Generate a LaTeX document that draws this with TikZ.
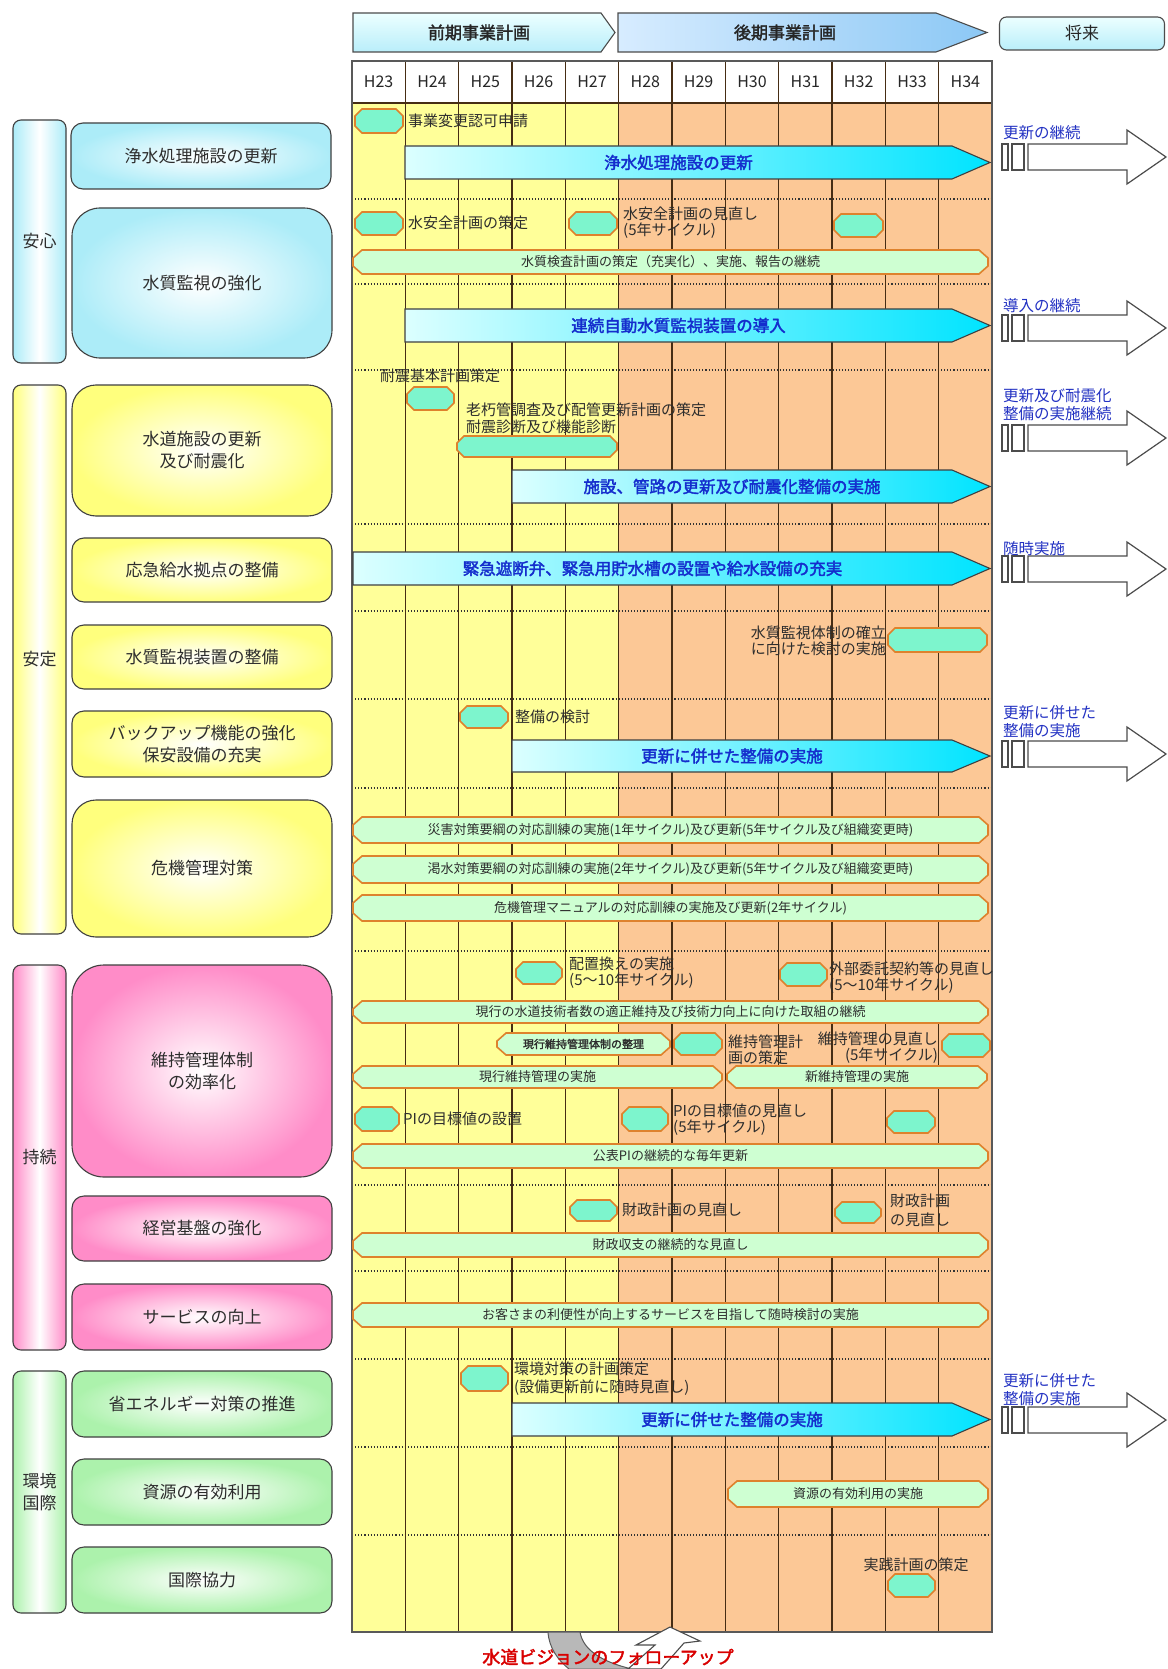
\documentclass[tikz,border=0pt]{standalone}
\usepackage{fontspec}
\setmainfont{Noto Sans CJK JP}[AutoFakeBold=2.2]
\usetikzlibrary{shapes.misc}
\definecolor{gyel}{RGB}{255,255,153}
\definecolor{gora}{RGB}{252,200,150}
\definecolor{aqua}{RGB}{125,245,205}
\definecolor{oedge}{RGB}{222,130,45}
\definecolor{mint}{RGB}{206,255,210}
\definecolor{cyl}{RGB}{220,255,255}
\definecolor{cyd}{RGB}{0,228,255}
\definecolor{tblue}{RGB}{20,45,205}
\definecolor{fblue}{RGB}{35,50,195}
\definecolor{txt}{RGB}{45,45,45}
\definecolor{brn}{RGB}{70,45,20}
\definecolor{lcyan}{RGB}{172,236,248}
\definecolor{lyel}{RGB}{255,255,125}
\definecolor{lpink}{RGB}{255,140,200}
\definecolor{lgreen}{RGB}{172,242,172}
\definecolor{hcyan1}{RGB}{236,255,255}
\definecolor{hcyan2}{RGB}{185,238,250}
\definecolor{hblue1}{RGB}{215,236,255}
\definecolor{hblue2}{RGB}{140,200,245}
\newcommand\fsz[2]{\fontsize{#1}{#2}\selectfont}
% milestone: name x0 y0 x1 y1
\newcommand\MStone[5]{%
  \path[msty] ({#2+7},#3) -- ({#4-7},#3) -- (#4,{#3+7}) -- (#4,{#5-7}) -- ({#4-7},#5) -- ({#2+7},#5) -- (#2,{#5-7}) -- (#2,{#3+7}) -- cycle;
  \coordinate (#1) at ({(#2+#4)/2},{(#3+#5)/2});}
% green bar: [opt] name x0 y0 x1 y1 text
\newcommand\GBar[7][]{%
  \path[gbsty] ({#3+9},#4) -- ({#5-9},#4) -- (#5,{#4+8}) -- (#5,{#6-8}) -- ({#5-9},#6) -- ({#3+9},#6) -- (#3,{#6-8}) -- (#3,{#4+8}) -- cycle;
  \node[bartxt,#1] (#2) at ({(#3+#5)/2},{(#4+#6)/2}) {#7};}
% big arrow: name x0 y0 y1 text
\newcommand\BArr[5]{%
  \path[draw=black!75, line width=1.1, left color=cyl, right color=cyd] (#2,#3) -- (952,#3) -- (990,{(#3+#4)/2}) -- (952,#4) -- (#2,#4) -- cycle;
  \node[arrtxt] (#1) at ({(#2+952)/2},{(#3+#4)/2}) {#5};}
% future arrow: name ymid
\newcommand\FArr[2]{%
  \draw[futsty] (1002,{#2-13}) rectangle (1008,{#2+13});
  \draw[futsty] (1012,{#2-13}) rectangle (1024,{#2+13});
  \draw[futsty] (1028,{#2-13}) -- (1127,{#2-13}) -- (1127,{#2-27}) -- (1166,#2) -- (1127,{#2+27}) -- (1127,{#2+13}) -- (1028,{#2+13}) -- cycle;
  \coordinate (#1) at (1097,#2);}
\begin{document}
\begin{tikzpicture}[x=1pt,y=-1pt,
 lab/.style={font=\fsz{15}{16}, text=txt, inner sep=0pt, anchor=west, align=left},
 flab/.style={font=\fsz{15.5}{18}, text=fblue, inner sep=0pt, anchor=west, align=left},
 bartxt/.style={font=\fsz{13}{14}, text=txt, inner sep=0pt},
 arrtxt/.style={font=\fsz{16.5}{18}\bfseries, text=tblue, inner sep=0pt},
 msty/.style={fill=aqua, draw=oedge, line width=1.6},
 gbsty/.style={fill=mint, draw=oedge, line width=1.6},
 futsty/.style={fill=white, draw=black!70, line width=1.2},
 gline/.style={draw=brn, line width=1.3},
 lbox/.style={draw=black!75, line width=1.1, inner sep=0pt, align=center, font=\fsz{17}{22}, text=txt, minimum width=260pt},
 gbox/.style={draw=black!75, line width=1.1, inner sep=0pt, align=center, font=\fsz{17}{22}, text=txt, minimum width=53pt, rounded corners=8pt},
 cybox/.style={inner color=white, outer color=lcyan},
 yebox/.style={inner color=white, outer color=lyel},
 pkbox/.style={inner color=white, outer color=lpink},
 grbox/.style={inner color=white, outer color=lgreen},
 hdr/.style={font=\fsz{17}{18}\bfseries, text=black!85, inner sep=0pt},
 yr/.style={font=\fsz{16}{16}, text=black!85, inner sep=0pt}
]
\fill[white] (0,0) rectangle (1167,1669);
\useasboundingbox (0,0) rectangle (1167,1669);

% ---------- header ----------
\path[draw=black!70, line width=1.1, top color=hcyan1, bottom color=hcyan2] (353,13) -- (601,13) -- (615,32.5) -- (601,52) -- (353,52) -- cycle;
\node[hdr] (zenki) at (479,32.5) {前期事業計画};
\path[draw=black!70, line width=1.1, left color=hblue1, right color=hblue2] (618,13) -- (936,13) -- (987,32.5) -- (936,52) -- (618,52) -- cycle;
\node[hdr] (kouki) at (785,32.5) {後期事業計画};
\node[draw=black!70, line width=1.1, rounded corners=7pt, top color=hcyan1, bottom color=hcyan2, minimum width=165pt, minimum height=33pt, font=\fsz{17}{18}, text=black!85] (shourai) at (1082,33.5) {将来};

% ---------- grid ----------
\fill[gyel] (352,103) rectangle (618.7,1632);
\fill[gora] (618.7,103) rectangle (992,1632);
\fill[white] (352,61) rectangle (992,103);
\foreach \y in {199,284,370,524,611,699,788,951,1185,1271,1359,1447,1535}
  \draw[dotted, line width=1.1, black!80] (352,\y) -- (992,\y);
\foreach \i in {1,...,11}
  \draw[gline] ({352+53.333*\i},61) -- ({352+53.333*\i},1632);
\draw[gline] (352,103) -- (992,103);
\draw[black!65, line width=1.3] (352,61) rectangle (992,1632);
\foreach \n [count=\i from 0] in {23,...,34}
  \node[yr] (y\n) at ({352+53.333*(\i+0.5)},82) {H\n};

% ---------- left labels ----------
\node[gbox, left color=lcyan, right color=lcyan, middle color=white, minimum height=243pt] (gAnshin) at (39.5,241.5) {安心};
\node[gbox, left color=lyel, right color=lyel, middle color=white, minimum height=549pt] (gAntei) at (39.5,659.5) {安定};
\node[gbox, left color=lpink, right color=lpink, middle color=white, minimum height=385pt] (gJizoku) at (39.5,1157.5) {持続};
\node[gbox, left color=lgreen, right color=lgreen, middle color=white, minimum height=242pt] (gKankyo) at (39.5,1492) {環境\\国際};

\node[lbox, cybox, rounded corners=12pt, minimum height=66pt] (kJousui) at (201,156) {浄水処理施設の更新};
\node[lbox, cybox, rounded corners=28pt, minimum height=150pt] (kSuishitsu) at (202,283) {水質監視の強化};
\node[lbox, yebox, rounded corners=24pt, minimum height=131pt] (kSuido) at (202,450.5) {水道施設の更新\\及び耐震化};
\node[lbox, yebox, rounded corners=12pt, minimum height=64pt] (kOukyu) at (202,570) {応急給水拠点の整備};
\node[lbox, yebox, rounded corners=12pt, minimum height=64pt] (kKanshi) at (202,657) {水質監視装置の整備};
\node[lbox, yebox, rounded corners=12pt, minimum height=66pt] (kBackup) at (202,744) {バックアップ機能の強化\\保安設備の充実};
\node[lbox, yebox, rounded corners=24pt, minimum height=137pt] (kKiki) at (202,868.5) {危機管理対策};
\node[lbox, pkbox, rounded corners=32pt, minimum height=212pt] (kIji) at (202,1071) {維持管理体制\\の効率化};
\node[lbox, pkbox, rounded corners=12pt, minimum height=65pt] (kKeiei) at (202,1228.5) {経営基盤の強化};
\node[lbox, pkbox, rounded corners=12pt, minimum height=66pt] (kService) at (202,1317) {サービスの向上};
\node[lbox, grbox, rounded corners=12pt, minimum height=66pt] (kShoene) at (202,1404) {省エネルギー対策の推進};
\node[lbox, grbox, rounded corners=12pt, minimum height=66pt] (kShigen) at (202,1492) {資源の有効利用};
\node[lbox, grbox, rounded corners=12pt, minimum height=66pt] (kKokusai) at (202,1580) {国際協力};

% ---------- 安心 ----------
\MStone{m1}{355}{109}{403}{133}
\node[lab] (l1) at (408,121) {事業変更認可申請};
\BArr{a1}{405}{146}{179}{浄水処理施設の更新}
\FArr{f1}{157}
\node[flab] (fl1) at (1003,133) {更新の継続};
\MStone{m2}{355}{212}{403}{235}
\node[lab] (l2) at (408,223) {水安全計画の策定};
\MStone{m3}{569}{212}{617}{235}
\node[lab] (l3) at (623,222.5) {水安全計画の見直し\\(5年サイクル)};
\MStone{m4}{834}{214}{883}{237}
\GBar{b1}{353}{250}{988}{274}{水質検査計画の策定（充実化）、実施、報告の継続}
\BArr{a2}{405}{309}{342}{連続自動水質監視装置の導入}
\FArr{f2}{328}
\node[flab] (fl2) at (1003,306) {導入の継続};

% ---------- 安定 ----------
\node[lab] (l4) at (380,376) {耐震基本計画策定};
\MStone{m5}{407}{387}{454}{410}
\node[lab, font=\fsz{15}{17}] (l5) at (466,418.5) {老朽管調査及び配管更新計画の策定\\耐震診断及び機能診断};
\MStone{m6}{457}{436}{617}{457}
\BArr{a3}{512}{470}{503}{施設、管路の更新及び耐震化整備の実施}
\FArr{f3}{438}
\node[flab] (fl3) at (1003,405) {更新及び耐震化\\整備の実施継続};
\BArr{a4}{353}{552}{585}{緊急遮断弁、緊急用貯水槽の設置や給水設備の充実}
\FArr{f4}{569}
\node[flab] (fl4) at (1003,549) {随時実施};
\node[lab, anchor=east, align=right] (l6) at (886,641) {水質監視体制の確立\\に向けた検討の実施};
\MStone{m7}{888}{628}{987}{652}
\MStone{m8}{460}{706}{508}{728}
\node[lab] (l7) at (515,717) {整備の検討};
\BArr{a5}{512}{740}{772}{更新に併せた整備の実施}
\FArr{f5}{754}
\node[flab] (fl5) at (1003,722) {更新に併せた\\整備の実施};
\GBar{b2}{353}{817}{988}{843}{災害対策要綱の対応訓練の実施(1年サイクル)及び更新(5年サイクル及び組織変更時)}
\GBar{b3}{353}{856}{988}{883}{渇水対策要綱の対応訓練の実施(2年サイクル)及び更新(5年サイクル及び組織変更時)}
\GBar{b4}{353}{895}{988}{921}{危機管理マニュアルの対応訓練の実施及び更新(2年サイクル)}

% ---------- 持続 ----------
\MStone{m9}{516}{962}{562}{984}
\node[lab] (l8) at (569,972.5) {配置換えの実施\\(5～10年サイクル)};
\MStone{m10}{780}{963}{827}{986}
\node[lab] (l9) at (829,978) {外部委託契約等の見直し\\(5～10年サイクル)};
\GBar{b5}{353}{1001}{988}{1023}{現行の水道技術者数の適正維持及び技術力向上に向けた取組の継続}
\GBar[font=\fsz{11}{12}\bfseries]{b6}{497}{1033}{670}{1055}{現行維持管理体制の整理}
\MStone{m11}{674}{1033}{722}{1055}
\node[lab] (l10) at (728,1049.5) {維持管理計\\画の策定};
\node[lab, anchor=east, align=right] (l11) at (938,1047.5) {維持管理の見直し\\(5年サイクル)};
\MStone{m12}{942}{1034}{990}{1057}
\GBar{b7}{353}{1066}{722}{1088}{現行維持管理の実施}
\GBar{b8}{727}{1066}{987}{1088}{新維持管理の実施}
\MStone{m13}{355}{1107}{399}{1131}
\node[lab] (l12) at (403,1119) {PIの目標値の設置};
\MStone{m14}{622}{1107}{668}{1131}
\node[lab] (l13) at (673,1120) {PIの目標値の見直し\\(5年サイクル)};
\MStone{m15}{887}{1111}{935}{1133}
\GBar{b9}{353}{1144}{988}{1168}{公表PIの継続的な毎年更新}
\MStone{m16}{570}{1200}{617}{1221}
\node[lab] (l14) at (622,1210) {財政計画の見直し};
\MStone{m17}{835}{1202}{881}{1223}
\node[lab, font=\fsz{15}{19}] (l15) at (890,1210.5) {財政計画\\の見直し};
\GBar{b10}{353}{1233}{988}{1257}{財政収支の継続的な見直し}
\GBar{b11}{353}{1303}{988}{1327}{お客さまの利便性が向上するサービスを目指して随時検討の実施}

% ---------- 環境・国際 ----------
\MStone{m18}{461}{1366}{508}{1391}
\node[lab, font=\fsz{15}{18}] (l16) at (514,1379) {環境対策の計画策定\\(設備更新前に随時見直し)};
\BArr{a6}{512}{1403}{1436}{更新に併せた整備の実施}
\FArr{f6}{1420}
\node[flab] (fl6) at (1003,1390) {更新に併せた\\整備の実施};
\GBar{b12}{728}{1481}{988}{1507}{資源の有効利用の実施}
\node[lab, anchor=center] (l17) at (916,1565) {実践計画の策定};
\MStone{m19}{888}{1574}{935}{1597}

% ---------- bottom follow-up ----------
\draw[fill=black!28, draw=black!65, line width=1] (548,1632) -- (580,1632) .. controls (583,1650) and (602,1662) .. (632,1669) -- (569,1669) .. controls (558,1660) and (549,1648) .. (548,1632) -- cycle;
\draw[fill=white, draw=black!70, line width=1.1, line join=miter] (670,1627) -- (700,1641) -- (684,1643) -- (661,1669) -- (628,1669) -- (655,1645) -- (636,1645) -- cycle;
\node[font=\fsz{18}{18}\bfseries, text=red!85!black, inner sep=0pt] (follow) at (608,1657) {水道ビジョンのフォローアップ};
\end{tikzpicture}
\end{document}
